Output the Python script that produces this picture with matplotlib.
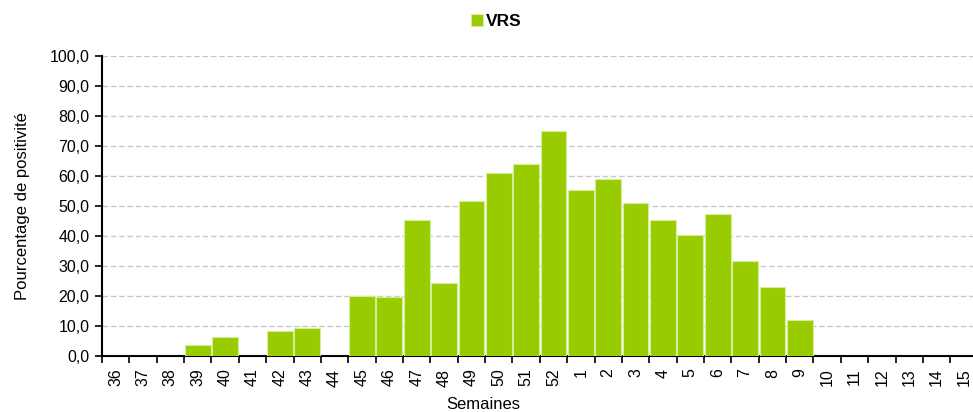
import numpy as np
import matplotlib.pyplot as plt

plt.rcParams['font.family'] = ['Liberation Sans', 'DejaVu Sans']

# données
semaines = [str(s) for s in list(range(36, 53)) + list(range(1, 16))]
vrs = [0, 0, 0, 3.8, 6.2, 0, 8.2, 9.4, 0, 20.0, 19.8, 45.3, 24.2, 51.6, 60.9, 64.0,
       75.1, 55.3, 59.0, 50.9, 45.4, 40.4, 47.2, 31.7, 23.0, 11.9,
       0, 0, 0, 0, 0, 0]

fig = plt.figure(figsize=(9.73, 4.12), dpi=100)
ax = fig.add_axes([0.1048, 0.1359, 0.900, 0.728])

x = np.arange(len(semaines))
ax.bar(x, vrs, width=0.94, color='#99cc00', edgecolor='#d4ee99', linewidth=0.8,
       label='VRS', zorder=3)

ax.set_xlim(-0.5, len(semaines) - 0.5)
ax.set_ylim(0, 100)
ax.set_yticks(np.arange(0, 101, 10))
ax.set_yticklabels([f'{v:.1f}'.replace('.', ',') for v in np.arange(0, 101, 10)], fontsize=11.5)
ax.set_xticks(x)
ax.set_xticklabels(semaines, rotation=90, fontsize=11.5)
ax.set_xticks(np.arange(-0.5, len(semaines)), minor=True)
ax.tick_params(axis='x', which='major', length=0, pad=9)
ax.tick_params(axis='x', which='minor', length=5, width=1.2, direction='out', color='black')
ax.tick_params(axis='y', length=5, width=1.2, color='black', pad=4)

ax.grid(axis='y', linestyle=(0, (4, 2)), color='#c8c8c8', linewidth=1, zorder=0)
for s in ['top', 'right']:
    ax.spines[s].set_visible(False)
ax.spines['left'].set_linewidth(1.5)
ax.spines['bottom'].set_linewidth(1.5)

ax.set_ylabel('Pourcentage de positivité', fontsize=12, labelpad=14)
ax.set_xlabel('Semaines', fontsize=12)
ax.xaxis.set_label_coords(0.435, -0.135)

ax.legend(loc='upper center', bbox_to_anchor=(0.51, 1.005), bbox_transform=fig.transFigure,
          frameon=False, handlelength=0.7, handleheight=0.7, handletextpad=0.15,
          prop={'weight': 'bold', 'size': 12.5})

fig.savefig('out.png', dpi=100)
